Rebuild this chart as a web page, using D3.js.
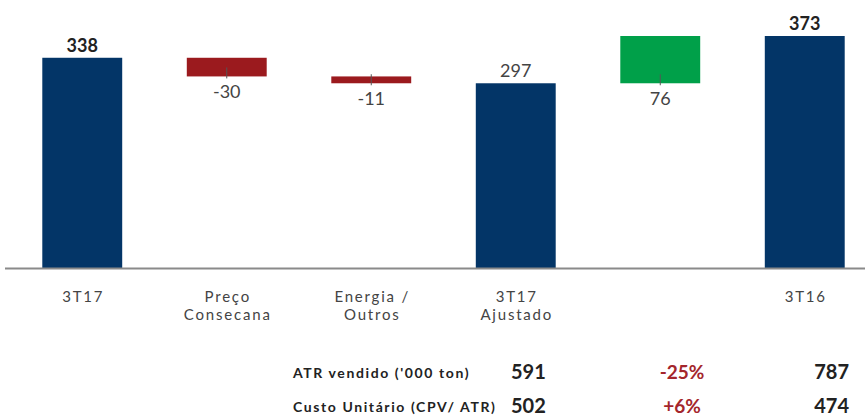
<!DOCTYPE html>
<html>
<head>
<meta charset="utf-8">
<script src="https://cdn.jsdelivr.net/npm/d3@7"></script>
<style>
  body { margin: 0; background: #fff; }
  svg { display: block; font-family: "Lato", "Open Sans", sans-serif; }
</style>
</head>
<body>
<svg id="chart" width="865" height="419"></svg>
<script>
// categories of the bridge (lines of each label), empty one for the unnamed step
var categories = [["3T17"], ["Preço", "Consecana"], ["Energia /", "Outros"], ["3T17", "Ajustado"], [""], ["3T16"]];
var values = [338, -30, -11, 297, 76, 373];
var kinds = ["total", "delta", "delta", "total", "delta", "total"];
var boldLabel = [true, false, false, false, false, true];

// table under the chart
var rowLabels = ["ATR vendido ('000 ton)", "Custo Unitário (CPV/ ATR)"];
var col3T17 = ["591", "502"];
var colVar = ["-25%", "+6%"];
var col3T16 = ["787", "474"];

var svg = d3.select("#chart"),
    baseY = 268;

var colors = { total: "#033567", down: "#9b1a1e", up: "#00a049" };

// build running start/end for each step
var running = 0;
var bars = values.map(function (v, i) {
    var d = { i: i, value: v, kind: kinds[i] };
    if (kinds[i] === "total") {
        d.y0 = 0; d.y1 = v; running = v;
    } else {
        d.y0 = running; d.y1 = running + v; running = d.y1;
    }
    return d;
});

var x = d3.scaleBand()
    .domain(d3.range(categories.length))
    .range([10, 877])
    .paddingInner(0.447)
    .paddingOuter(0.2235);

var y = d3.scaleLinear()
    .domain([0, d3.max(values)])
    .range([baseY, 36]);

// bars
svg.append("g").selectAll("rect")
    .data(bars)
    .enter().append("rect")
    .attr("x", function (d) { return x(d.i); })
    .attr("width", x.bandwidth())
    .attr("y", function (d) { return y(Math.max(d.y0, d.y1)); })
    .attr("height", function (d) { return Math.abs(y(d.y0) - y(d.y1)); })
    .attr("fill", function (d) {
        if (d.kind === "total") return colors.total;
        return d.value < 0 ? colors.down : colors.up;
    });

// axis line
svg.append("line")
    .attr("x1", 5).attr("x2", 865)
    .attr("y1", baseY + 0.5).attr("y2", baseY + 0.5)
    .attr("stroke", "#8a8a8a")
    .attr("stroke-width", 2);

// leader ticks for the deltas
var deltas = bars.filter(function (d) { return d.kind === "delta"; });
svg.append("g").selectAll("line")
    .data(deltas)
    .enter().append("line")
    .attr("x1", function (d) { return x(d.i) + x.bandwidth() / 2; })
    .attr("x2", function (d) { return x(d.i) + x.bandwidth() / 2; })
    .attr("y1", function (d) { return y(Math.min(d.y0, d.y1)) - 9; })
    .attr("y2", function (d) { return y(Math.min(d.y0, d.y1)) + 2; })
    .attr("stroke", "#555")
    .attr("stroke-width", 1);

// value labels
svg.append("g").selectAll("text")
    .data(bars)
    .enter().append("text")
    .attr("x", function (d) { return x(d.i) + x.bandwidth() / 2; })
    .attr("y", function (d) {
        if (d.kind === "total") return y(d.y1) - 6;
        return y(Math.min(d.y0, d.y1)) + 22;
    })
    .attr("text-anchor", "middle")
    .attr("font-size", 18)
    .attr("font-weight", function (d) { return boldLabel[d.i] ? "bold" : "normal"; })
    .attr("fill", function (d) { return boldLabel[d.i] ? "#222" : "#444"; })
    .text(function (d) { return d.value; });

// category labels (wide, light face like the original)
var cat = svg.append("g").selectAll("text")
    .data(categories)
    .enter().append("text")
    .attr("text-anchor", "middle")
    .attr("font-size", 15)
    .attr("letter-spacing", 1.8)
    .attr("fill", "#444")
    .attr("transform", function (d, i) { return "translate(" + (x(i) + x.bandwidth() / 2 + 1) + "," + 302 + ")"; });
cat.selectAll("tspan")
    .data(function (d) { return d; })
    .enter().append("tspan")
    .attr("x", 0)
    .attr("y", function (d, j) { return j * 18; })
    .text(function (d) { return d; });

// table
var rowY = d3.scalePoint().domain(d3.range(rowLabels.length)).range([378, 412]);
var tbl = svg.append("g");
tbl.selectAll(".lbl").data(rowLabels).enter().append("text")
    .attr("x", 293).attr("y", function (d, i) { return rowY(i); })
    .attr("font-size", 14).attr("font-weight", "bold").attr("fill", "#222")
    .attr("letter-spacing", 1.6)
    .text(function (d) { return d; });
tbl.selectAll(".c1").data(col3T17).enter().append("text")
    .attr("x", 511).attr("y", function (d, i) { return rowY(i) + 1; })
    .attr("font-size", 20).attr("font-weight", "bold").attr("fill", "#222")
    .text(function (d) { return d; });
tbl.selectAll(".c2").data(colVar).enter().append("text")
    .attr("x", 682).attr("y", function (d, i) { return rowY(i) + 1; })
    .attr("text-anchor", "middle")
    .attr("font-size", 19).attr("font-weight", "bold").attr("fill", "#a4262c")
    .text(function (d) { return d; });
tbl.selectAll(".c3").data(col3T16).enter().append("text")
    .attr("x", 849).attr("y", function (d, i) { return rowY(i) + 1; })
    .attr("text-anchor", "end")
    .attr("font-size", 20).attr("font-weight", "bold").attr("fill", "#222")
    .text(function (d) { return d; });
</script>
</body>
</html>
